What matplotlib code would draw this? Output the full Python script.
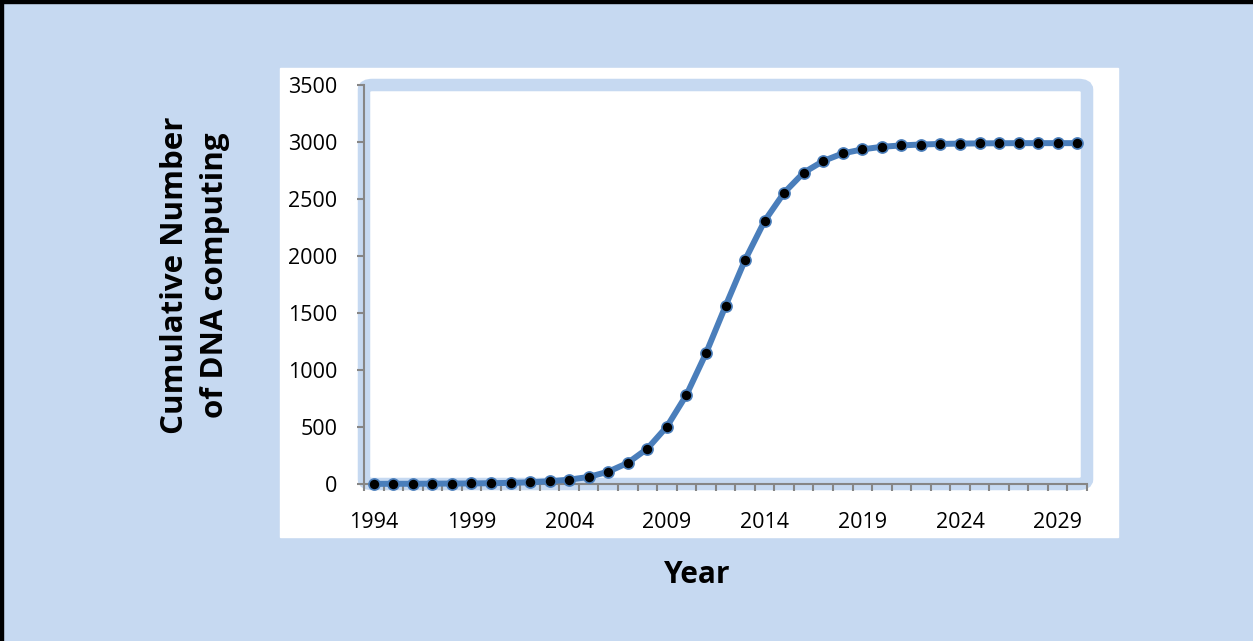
import matplotlib
matplotlib.use("Agg")
import matplotlib.pyplot as plt
from matplotlib.patches import Rectangle, FancyBboxPatch
from matplotlib.ticker import MultipleLocator, FixedLocator

# cumulative count per year
years = list(range(1994, 2031))
counts = [1, 2, 2, 3, 4, 5, 7, 10, 15, 24, 38, 62, 108, 185, 310, 503, 781,
          1146, 1561, 1965, 2307, 2555, 2731, 2833, 2900, 2935, 2958, 2970,
          2978, 2983, 2986, 2988, 2989, 2990, 2990, 2990, 2990]
xtick_years = list(range(1994, 2031, 5))

BG = "#C6D9F1"
LINE = "#4A7EBB"
GREY = "#868686"

plt.rcParams["font.family"] = ["Open Sans", "DejaVu Sans"]

fig = plt.figure(figsize=(12.53, 6.41), dpi=100)
fig.patch.set_facecolor(BG)

W, H = 1253, 641

# black edge on top and left of the picture
fig.patches.append(Rectangle((0, 1 - 3 / H), 1, 3 / H, transform=fig.transFigure,
                             color="black", zorder=-10))
fig.patches.append(Rectangle((0, 0), 3 / W, 1, transform=fig.transFigure,
                             color="black", zorder=-10))
# white chart panel
fig.patches.append(Rectangle((280 / W, (H - 537) / H), (1118 - 280) / W, (537 - 68) / H,
                             transform=fig.transFigure, color="white", zorder=-10))

ax = fig.add_axes([364 / W, (H - 484) / H, (1087 - 364) / W, (484 - 85) / H])
ax.set_facecolor("none")

# thick light-blue plot-area frame
frame = FancyBboxPatch((0, 0), 1, 1, boxstyle="round,pad=0,rounding_size=0.012",
                       transform=ax.transAxes, fill=False, edgecolor=BG,
                       linewidth=9, clip_on=False, zorder=0.5)
ax.add_patch(frame)

ax.plot(years, counts, color=LINE, linewidth=4.3, marker="o", markersize=8,
        markerfacecolor="black", markeredgecolor=LINE, markeredgewidth=1.2,
        zorder=3, clip_on=False)

ax.set_xlim(1993.5, 2030.5)
ax.set_ylim(0, 3500)
ax.yaxis.set_major_locator(MultipleLocator(500))
ax.xaxis.set_major_locator(FixedLocator(xtick_years))
ax.xaxis.set_minor_locator(FixedLocator([y + 0.5 for y in range(1993, 2031)]))

for s in ["top", "right"]:
    ax.spines[s].set_visible(False)
for s in ["left", "bottom"]:
    ax.spines[s].set_color(GREY)
    ax.spines[s].set_linewidth(1.5)
    ax.spines[s].set_zorder(2)

ax.tick_params(axis="y", which="major", direction="out", length=5, width=1.5,
               color=GREY, labelsize=15.5, pad=14)
ax.tick_params(axis="x", which="major", length=0, labelsize=15.5, pad=20)
ax.tick_params(axis="x", which="minor", direction="out", length=5, width=1.5,
               color=GREY)

fig.text(697 / W, (H - 575) / H, "Year", fontsize=21.5, fontweight="bold",
         ha="center", va="center")
fig.text(195 / W, (H - 275) / H, "Cumulative Number\nof DNA computing",
         fontsize=22.5, fontweight="bold", rotation=90, ha="center", va="center",
         multialignment="center", linespacing=1.4)

fig.savefig("out.png", dpi=100, facecolor=fig.get_facecolor())
